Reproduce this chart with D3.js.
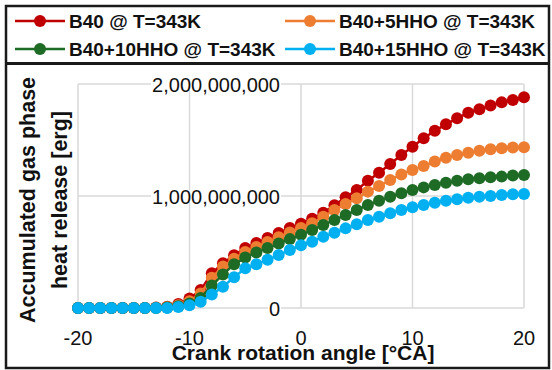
<!DOCTYPE html>
<html>
<head>
<meta charset="utf-8">
<script src="https://cdn.jsdelivr.net/npm/d3@7"></script>
<style>
  body { margin: 0; background: #fff; }
  text { font-family: "Liberation Sans", Arial, sans-serif; }
</style>
</head>
<body>
<div id="chart"></div>
<script>
// crank angle in degrees CA
const angles = d3.range(-20, 21)

// accumulated heat release, in 1e9 erg
const b40 = [0,0,0,0,0,0,0,0.005,0.012,0.035,0.085,0.16,0.31,0.40,0.47,0.535,0.58,0.625,0.67,0.714,0.752,
  0.797,0.85,0.918,0.988,1.054,1.137,1.208,1.286,1.366,1.44,1.515,1.583,1.64,1.694,1.744,1.774,1.807,1.836,1.857,1.881]
const b40_5hho = [0,0,0,0,0,0,0,0.003,0.008,0.025,0.06,0.13,0.27,0.37,0.44,0.5,0.545,0.59,0.632,0.675,0.715,
  0.756,0.815,0.875,0.929,0.979,1.039,1.089,1.143,1.193,1.232,1.268,1.307,1.342,1.366,1.387,1.405,1.417,1.426,1.432,1.435]
const b40_10hho = [0,0,0,0,0,0,0,0,0.005,0.015,0.04,0.09,0.2,0.3,0.39,0.45,0.495,0.535,0.575,0.615,0.655,
  0.696,0.741,0.786,0.83,0.875,0.92,0.958,0.994,1.024,1.054,1.077,1.098,1.119,1.137,1.149,1.158,1.167,1.173,1.182,1.188]
const b40_15hho = [0,0,0,0,0,0,0,0,0,0.008,0.025,0.056,0.12,0.19,0.274,0.354,0.39,0.43,0.473,0.518,0.56,
  0.592,0.637,0.672,0.711,0.747,0.786,0.815,0.845,0.875,0.899,0.92,0.94,0.958,0.971,0.985,0.994,1.0,1.009,1.015,1.018]

const seriesNames = ["B40 @ T=343K","B40+5HHO @ T=343K","B40+10HHO @ T=343K","B40+15HHO @ T=343K"]
const seriesColors = ["#c00000","#ed7d31","#1e6b26","#00b0f0"]
const seriesValues = [b40, b40_5hho, b40_10hho, b40_15hho]

const xTicks = [-20,-10,0,10,20]
const yTicks = [0,1,2]

const W = 552, H = 370
const plot = {left: 78, right: 524, top: 84, bottom: 308}

const svg = d3.select("#chart").append("svg").attr("width",W).attr("height",H)
svg.append("rect").attr("width",W).attr("height",H).attr("fill","#fff")

const x = d3.scaleLinear().domain([-20,20]).range([plot.left,plot.right])
const y = d3.scaleLinear().domain([0,2]).range([plot.bottom,plot.top])
const fmt = d3.format(",")

// grid
svg.append("g").selectAll("line").data(xTicks).join("line")
  .attr("x1",d=>x(d)).attr("x2",d=>x(d)).attr("y1",plot.top).attr("y2",plot.bottom)
  .attr("stroke","#d9d9d9").attr("stroke-width",1.5)
svg.append("g").selectAll("line").data(yTicks).join("line")
  .attr("x1",plot.left).attr("x2",plot.right).attr("y1",d=>y(d)).attr("y2",d=>y(d))
  .attr("stroke","#d9d9d9").attr("stroke-width",1.5)

// series
const line = d3.line().x((d,i)=>x(angles[i])).y(d=>y(d))
seriesValues.forEach((vals,k)=>{
  const g = svg.append("g")
  g.append("path").datum(vals).attr("d",line).attr("fill","none")
    .attr("stroke",seriesColors[k]).attr("stroke-width",2.5)
  g.selectAll("circle").data(vals).join("circle")
    .attr("cx",(d,i)=>x(angles[i])).attr("cy",d=>y(d)).attr("r",6)
    .attr("fill",seriesColors[k])
})

// y tick labels, sitting at x = 0 with a white box
const yl = svg.append("g").selectAll("g").data(yTicks).join("g")
  .attr("transform",d=>`translate(${x(0)-21},${y(d)})`)
yl.append("text").attr("text-anchor","end").attr("y",7.5)
  .attr("font-size","20px").attr("fill","#111").text(d=>fmt(d*1e9))
  .each(function(){
    const b = this.getBBox()
    d3.select(this.parentNode).insert("rect","text")
      .attr("x",b.x-1).attr("y",-6).attr("width",b.width+2).attr("height",12).attr("fill","#fff")
  })

// x tick labels
svg.append("g").selectAll("text").data(xTicks).join("text")
  .attr("x",d=>x(d)).attr("y",345).attr("text-anchor","middle")
  .attr("font-size","20px").attr("fill","#111").text(d=>d)

// axis titles
svg.append("text").attr("x",303).attr("y",360).attr("text-anchor","middle")
  .attr("font-size","21px").attr("font-weight","bold").attr("fill","#111")
  .text("Crank rotation angle [°CA]")
const yt = svg.append("g").attr("transform","translate(0,200) rotate(-90)")
yt.append("text").attr("x",0).attr("y",35).attr("text-anchor","middle")
  .attr("font-size","21.5px").attr("font-weight","bold").attr("fill","#111")
  .text("Accumulated gas phase")
yt.append("text").attr("x",0).attr("y",67).attr("text-anchor","middle")
  .attr("font-size","21.5px").attr("font-weight","bold").attr("fill","#111")
  .text("heat release [erg]")

// legend
const legPos = [[15,21],[285,21],[15,49],[285,49]]
const leg = svg.append("g").selectAll("g").data(seriesNames).join("g")
  .attr("transform",(d,i)=>`translate(${legPos[i][0]},${legPos[i][1]})`)
leg.append("line").attr("x1",0).attr("x2",50).attr("stroke",(d,i)=>seriesColors[i]).attr("stroke-width",2.5)
leg.append("circle").attr("cx",25).attr("r",6).attr("fill",(d,i)=>seriesColors[i])
leg.append("text").attr("x",54).attr("y",7).attr("font-size","19px").attr("font-weight","bold")
  .attr("fill","#111").text(d=>d)

// frame
svg.append("rect").attr("x",6).attr("y",6).attr("width",543).attr("height",362)
  .attr("fill","none").attr("stroke","#1a1a1a").attr("stroke-width",2.5)
svg.append("line").attr("x1",6).attr("x2",549).attr("y1",63.5).attr("y2",63.5)
  .attr("stroke","#1a1a1a").attr("stroke-width",3)
</script>
</body>
</html>
